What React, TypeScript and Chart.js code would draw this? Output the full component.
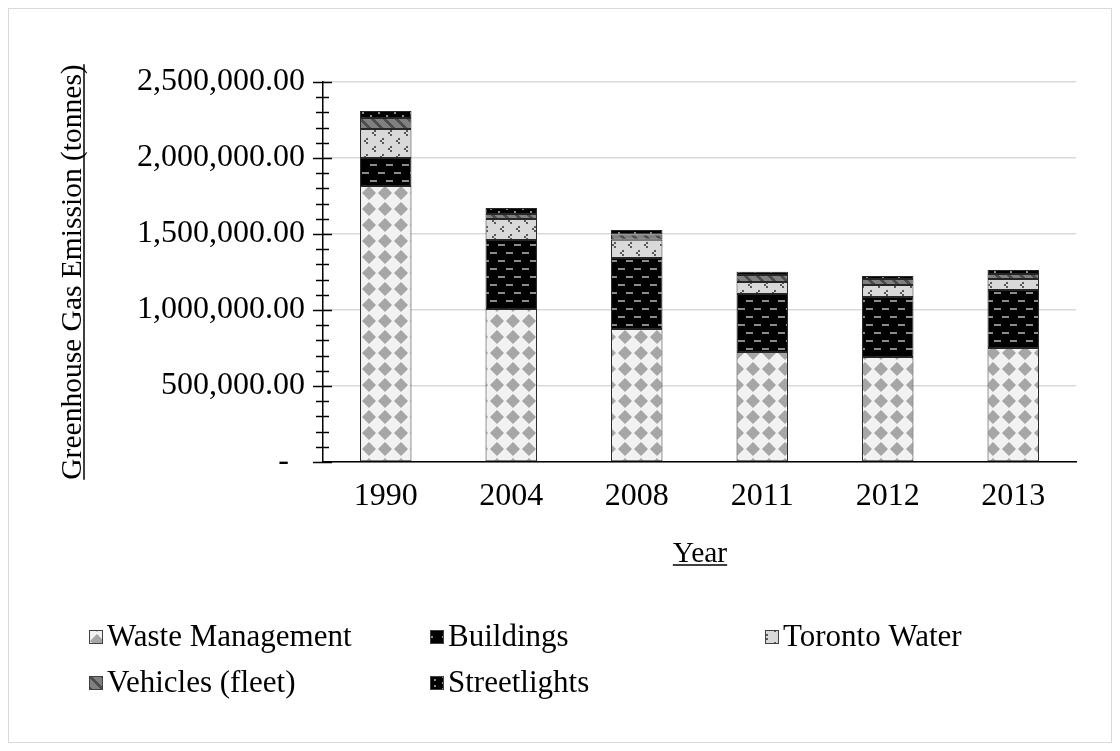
import React, { useEffect, useRef } from "react";
import { Chart, registerables } from "chart.js";

Chart.register(...registerables);

const years = ["1990", "2004", "2008", "2011", "2012", "2013"];
const wasteManagement = [1816000, 1007000, 875000, 724000, 690000, 750000];
const buildings = [184000, 454000, 467000, 382000, 395000, 382000];
const torontoWater = [191000, 138000, 120000, 79000, 79000, 72000];
const vehiclesFleet = [72000, 33000, 35000, 46000, 40000, 33000];
const streetlights = [46000, 39000, 30000, 20000, 20000, 26000];

const seriesNames = ["Waste Management", "Buildings", "Toronto Water", "Vehicles (fleet)", "Streetlights"];
const yTitle = "Greenhouse Gas Emission (tonnes)";
const xTitle = "Year";
const yMax = 2500000;
const yStep = 500000;
const yMinorStep = 100000;

const FONT = '"Liberation Serif", "Times New Roman", serif';
const TICK_FS = 32;
const LEG_FS = 31;
const TITLE_FS = 29.5;

function makeTile(w: number, h: number, draw: (c: CanvasRenderingContext2D) => void) {
  const cv = document.createElement("canvas");
  cv.width = w;
  cv.height = h;
  const c = cv.getContext("2d")!;
  draw(c);
  return cv;
}

function makePatterns(ctx: CanvasRenderingContext2D) {
  const waste = makeTile(16, 16, (c) => {
    c.fillStyle = "#f2f2f2";
    c.fillRect(0, 0, 16, 16);
    c.fillStyle = "#a6a6a6";
    c.beginPath();
    c.moveTo(8, 1);
    c.lineTo(15, 8);
    c.lineTo(8, 15);
    c.lineTo(1, 8);
    c.closePath();
    c.fill();
  });
  const build = makeTile(16, 16, (c) => {
    c.fillStyle = "#000";
    c.fillRect(0, 0, 16, 16);
    c.fillStyle = "#8c8c8c";
    c.fillRect(1, 3, 7, 2);
    c.fillRect(9, 11, 7, 2);
  });
  const water = makeTile(16, 16, (c) => {
    c.fillStyle = "#d9d9d9";
    c.fillRect(0, 0, 16, 16);
    c.fillStyle = "#595959";
    [[5, 1], [3, 3], [5, 5], [13, 9], [11, 11], [13, 13]].forEach(([x, y]) => c.fillRect(x, y, 2, 2));
  });
  const veh = makeTile(12, 12, (c) => {
    c.fillStyle = "#808080";
    c.fillRect(0, 0, 12, 12);
    c.fillStyle = "#4d4d4d";
    for (let y = 0; y < 12; y++) {
      for (let x = 0; x < 12; x++) {
        if (((x - y + 24) % 12) < 4) c.fillRect(x, y, 1, 1);
      }
    }
  });
  const street = makeTile(16, 6, (c) => {
    c.fillStyle = "#000";
    c.fillRect(0, 0, 16, 6);
    c.fillStyle = "#8c8c8c";
    c.fillRect(1, 1, 2, 2);
    c.fillRect(9, 4, 2, 2);
  });
  return [waste, build, water, veh, street].map((t) => ctx.createPattern(t, "repeat") as CanvasPattern);
}

export default function App() {
  const ref = useRef<HTMLCanvasElement | null>(null);

  useEffect(() => {
    const canvas = ref.current!;
    const ctx = canvas.getContext("2d")!;
    const patterns = makePatterns(ctx);
    const values = [wasteManagement, buildings, torontoWater, vehiclesFleet, streetlights];

    const decor = {
      id: "decor",
      afterDraw(chart: any) {
        const c = chart.ctx as CanvasRenderingContext2D;
        const ys = chart.scales.y;
        const xAxisX = ys.right;
        c.save();
        c.strokeStyle = "#000";
        c.lineWidth = 1.5;
        for (let v = 0; v <= yMax; v += yMinorStep) {
          const py = Math.round(ys.getPixelForValue(v)) + 0.5;
          const major = v % yStep === 0;
          c.beginPath();
          c.moveTo(xAxisX - (major ? 10 : 7), py);
          c.lineTo(xAxisX + (major ? 9 : 6), py);
          c.stroke();
        }
        c.fillStyle = "#000";
        c.font = `${TITLE_FS}px ${FONT}`;
        c.textAlign = "center";
        c.textBaseline = "alphabetic";
        const cy = (chart.chartArea.top + chart.chartArea.bottom) / 2;
        c.save();
        c.translate(72, cy);
        c.rotate(-Math.PI / 2);
        c.fillText(yTitle, 0, 0);
        const tw = c.measureText(yTitle).width;
        c.lineWidth = 1.5;
        c.beginPath();
        c.moveTo(-tw / 2, 3);
        c.lineTo(tw / 2, 3);
        c.stroke();
        c.restore();
        const xw = c.measureText(xTitle).width;
        const xcx = 691;
        const xby = 553;
        c.fillText(xTitle, xcx, xby);
        c.lineWidth = 1.5;
        c.beginPath();
        c.moveTo(xcx - xw / 2, xby + 3);
        c.lineTo(xcx + xw / 2, xby + 3);
        c.stroke();
        const pos = [
          [80, 628],
          [421, 628],
          [756, 628],
          [80, 674],
          [421, 674],
        ];
        c.font = `${LEG_FS}px ${FONT}`;
        c.textAlign = "left";
        c.textBaseline = "middle";
        seriesNames.forEach((name, i) => {
          const [bx, by] = pos[i];
          c.fillStyle = patterns[i];
          c.fillRect(bx, by - 7, 14, 14);
          c.strokeStyle = "#404040";
          c.lineWidth = 1;
          c.strokeRect(bx + 0.5, by - 6.5, 13, 13);
          c.fillStyle = "#000";
          c.fillText(name, bx + 18, by + 1);
        });
        c.restore();
      },
    };

    const chart = new Chart(canvas, {
      type: "bar",
      data: {
        labels: years,
        datasets: seriesNames.map((name, i) => ({
          label: name,
          data: values[i],
          backgroundColor: patterns[i],
          borderColor: "#262626",
          borderWidth: 1,
          borderSkipped: false,
          barPercentage: 0.41,
          categoryPercentage: 1,
        })),
      },
      options: {
        animation: false,
        responsive: true,
        maintainAspectRatio: false,
        layout: { padding: { top: 73, right: 35, left: 0, bottom: 0 } },
        plugins: { legend: { display: false }, tooltip: { enabled: false } },
        scales: {
          x: {
            stacked: true,
            grid: { display: false, drawTicks: false },
            border: { display: true, color: "#000", width: 1.5 },
            ticks: { color: "#000", font: { family: FONT, size: TICK_FS }, padding: 15 },
            afterFit: (s: any) => {
              s.height = 280;
            },
          },
          y: {
            stacked: true,
            min: 0,
            max: yMax,
            grid: { color: "#d9d9d9", lineWidth: 1.5, drawTicks: false },
            border: { display: true, color: "#000", width: 1.5 },
            ticks: {
              stepSize: yStep,
              color: "#000",
              font: { family: FONT, size: TICK_FS },
              padding: 18,
              callback: (v: any) =>
                Number(v) === 0
                  ? "-  "
                  : Number(v).toLocaleString("en-US", { minimumFractionDigits: 2, maximumFractionDigits: 2 }),
            },
            afterFit: (s: any) => {
              s.width = 314;
            },
          },
        },
      },
      plugins: [decor],
    });
    return () => chart.destroy();
  }, []);

  return (
    <div
      style={{
        width: 1104,
        height: 735,
        border: "1px solid #d9d9d9",
        boxSizing: "border-box",
        position: "relative",
        background: "#fff",
      }}
    >
      <canvas ref={ref} />
    </div>
  );
}
